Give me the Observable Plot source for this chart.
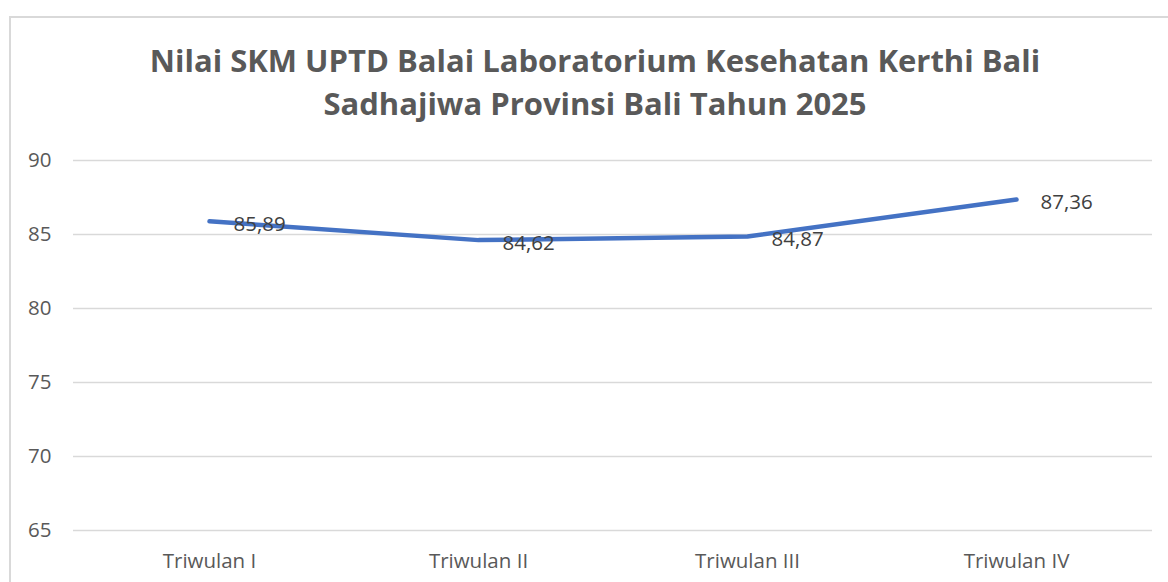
<!DOCTYPE html>
<html><head><meta charset="utf-8">
<script src="https://cdn.jsdelivr.net/npm/d3@7"></script>
<script src="https://cdn.jsdelivr.net/npm/@observablehq/plot@0.6"></script>
<style>
html,body{margin:0;padding:0;background:#fff;overflow:hidden;width:1168px;height:582px;}
#frame{position:absolute;left:9px;top:16px;width:1200px;height:620px;border:2px solid #d9d9d9;box-sizing:border-box;}
#title{position:absolute;left:0;top:39px;width:1190px;text-align:center;font-family:"Open Sans",sans-serif;font-weight:bold;font-size:31px;line-height:43px;color:#595959;}
#chart{position:absolute;left:0;top:130px;}
</style></head>
<body>
<div id="frame"></div>
<div id="title">Nilai SKM UPTD Balai Laboratorium Kesehatan Kerthi Bali<br>Sadhajiwa Provinsi Bali Tahun 2025</div>
<div id="chart"></div>
<script>
const categories = ["Triwulan I", "Triwulan II", "Triwulan III", "Triwulan IV"];
const values = [85.89, 84.62, 84.87, 87.36];
const valueLabels = ["85,89", "84,62", "84,87", "87,36"];
const yTicks = [65, 70, 75, 80, 85, 90];

const data = categories.map((c, i) => ({cat: c, v: values[i], label: valueLabels[i]}));

const chart = Plot.plot({
  width: 1168,
  height: 452,
  marginLeft: 73,
  marginRight: 16,
  marginTop: 30,
  marginBottom: 52,
  style: {fontFamily: "'Open Sans', sans-serif", background: "transparent"},
  x: {type: "point", domain: categories, padding: 0.5},
  y: {domain: [65, 90]},
  marks: [
    Plot.gridY(yTicks, {stroke: "#d9d9d9", strokeOpacity: 1, strokeWidth: 1.5}),
    Plot.axisY(yTicks, {tickSize: 0, tickPadding: 22, fontSize: 20.5, fill: "#595959", label: null}),
    Plot.axisX({tickSize: 0, tickPadding: 23, fontSize: 20.5, fill: "#595959", label: null}),
    Plot.line(data, {x: "cat", y: "v", stroke: "#4472C4", strokeWidth: 4.5, strokeLinecap: "round", strokeLinejoin: "round"}),
    Plot.text(data, {x: "cat", y: "v", text: "label", textAnchor: "start", dx: 24, dy: 3, fontSize: 20.5, fill: "#404040"})
  ]
});
document.getElementById("chart").appendChild(chart);
</script>
</body></html>
